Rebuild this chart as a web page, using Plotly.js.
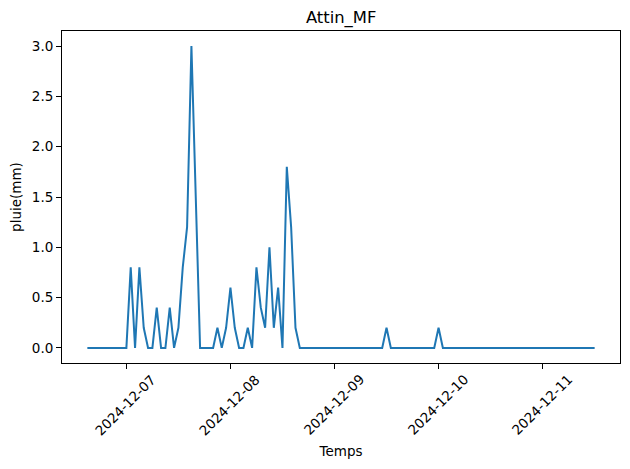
<!DOCTYPE html>
<html>
<head>
<meta charset="utf-8">
<script src="https://cdn.plot.ly/plotly-3.0.1.min.js"></script>
<style>html,body{margin:0;padding:0;background:#fff;}#chart{width:630px;height:469px;}</style>
</head>
<body>
<div id="chart"></div>
<script>
// Hourly series, 2024-12-06 15:00 -> 2024-12-11 12:00
var startTime = "2024-12-06T15:00:00Z";
var stepHours = 1;
var pluie = [
  0,0,0,0,0,0,0,0,0,0,
  0.8,0,0.8,0.2,0,0,0.4,0,0,0.4,0,0.2,0.8,1.2,3.0,1.4,
  0,0,0,0,
  0.2,0,0.2,0.6,0.2,0,0,0.2,0,0.8,0.4,0.2,1.0,0.2,0.6,0,1.8,1.2,0.2,0,
  0,0,0,0,0,0,0,0,0,0,0,0,0,0,0,0,0,0,0,
  0.2,
  0,0,0,0,0,0,0,0,0,0,0,
  0.2,
  0,0,0,0,0,0,0,0,0,0,0,0,0,0,0,0,0,0,0,0,0,0,0,0,0,0,0,0,0,0,0,0,0,0,0,0
];
var xTickVals = ["2024-12-07","2024-12-08","2024-12-09","2024-12-10","2024-12-11"];
var yTickVals = [0,0.5,1.0,1.5,2.0,2.5,3.0];
var chartTitle = "Attin_MF";
var xTitle = "Temps";
var yTitle = "pluie(mm)";

function fmt(ms){ return new Date(ms).toISOString().slice(0,16).replace("T"," "); }
var t0 = Date.parse(startTime);
var temps = pluie.map(function(_, i){ return fmt(t0 + i*stepHours*3600000); });
var tEnd = t0 + (pluie.length-1)*stepHours*3600000;
var pad = (tEnd - t0)*0.05;
var ymax = Math.max.apply(null, pluie), ymin = Math.min.apply(null, pluie);
var ypad = (ymax - ymin)*0.05;

var font = "DejaVu Sans, sans-serif";
var annotations = xTickVals.map(function(v){
  return {x: v, xref: "x", y: 0, yref: "paper", text: v, showarrow: false,
          textangle: -45, xanchor: "center", yanchor: "top", yshift: -6, xshift: -1,
          font: {family: font, size: 13.5, color: "#000"}};
});

Plotly.newPlot("chart", [{
  x: temps, y: pluie, type: "scatter", mode: "lines",
  line: {color: "#1f77b4", width: 2}
}], {
  width: 630, height: 469,
  margin: {l: 62, r: 10, t: 31, b: 106, pad: 0},
  paper_bgcolor: "#fff", plot_bgcolor: "#fff",
  showlegend: false,
  title: {text: chartTitle, x: 0.5415, xanchor: "center", y: 0.963, yanchor: "middle",
          font: {family: font, size: 16.4, color: "#000"}},
  xaxis: {type: "date", range: [fmt(t0 - pad), fmt(tEnd + pad)],
          tickmode: "array", tickvals: xTickVals, showticklabels: false,
          ticks: "outside", ticklen: 5, tickwidth: 1, tickcolor: "#000",
          showgrid: false, zeroline: false, showline: true, linecolor: "#000", linewidth: 1, mirror: true,
          title: {text: xTitle, standoff: 78, font: {family: font, size: 13.5, color: "#000"}}},
  yaxis: {range: [ymin - ypad, ymax + ypad], tickmode: "array", tickvals: yTickVals,
          tickformat: ".1f", ticks: "outside", ticklen: 5, tickwidth: 1, tickcolor: "#000",
          tickfont: {family: font, size: 13.5, color: "#000"},
          showgrid: false, zeroline: false, showline: true, linecolor: "#000", linewidth: 1, mirror: true,
          title: {text: yTitle, standoff: 7, font: {family: font, size: 13.5, color: "#000"}}},
  annotations: annotations
}, {staticPlot: true});
</script>
</body>
</html>
